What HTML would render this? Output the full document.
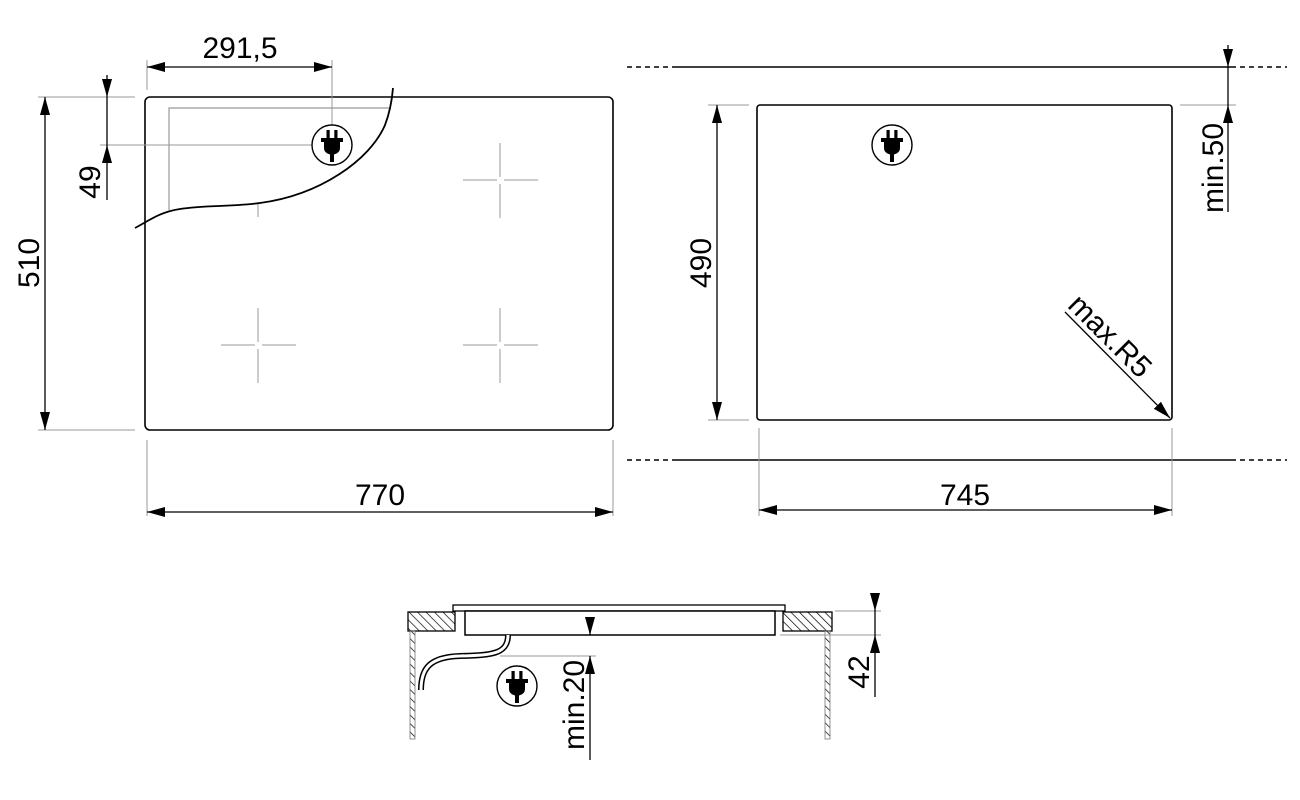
<!DOCTYPE html>
<html><head><meta charset="utf-8"><style>
html,body{margin:0;padding:0;background:#fff;}
svg{display:block;}
text{font-family:"Liberation Sans",Arial,sans-serif;font-size:30px;fill:#000;}
</style></head><body>
<svg width="1300" height="800" viewBox="0 0 1300 800" xmlns="http://www.w3.org/2000/svg">
<defs>
<marker id="a" viewBox="0 0 18 10" refX="18" refY="5" markerWidth="18" markerHeight="10" markerUnits="userSpaceOnUse" orient="auto-start-reverse"><path d="M0,0 L18,5 L0,10 Z" fill="#000"/></marker>
<pattern id="h" width="6" height="6" patternUnits="userSpaceOnUse" patternTransform="rotate(-45)"><line x1="0" y1="0" x2="0" y2="6" stroke="#000" stroke-width="1.4"/></pattern>
<g id="plug">
<circle cx="0" cy="0" r="20" fill="#fff" stroke="#000" stroke-width="1.4"/>
<rect x="-5.5" y="-15" width="3.2" height="8" fill="#000"/><rect x="2.3" y="-15" width="3.2" height="8" fill="#000"/>
<path d="M-11,-7 H11 V-3 H8 V3 Q8,8 2,9.5 V17 H-2 V9.5 Q-8,8 -8,3 V-3 H-11 Z" fill="#000"/>
</g>
<g id="cross" stroke="#bbb" stroke-width="1.5">
<line x1="-37" y1="0" x2="-3" y2="0"/><line x1="4" y1="0" x2="38" y2="0"/>
<line x1="0" y1="-37" x2="0" y2="-3"/><line x1="0" y1="4" x2="0" y2="38"/>
</g>
</defs>

<!-- LEFT VIEW -->
<g fill="none">
<rect x="145" y="97" width="468" height="333" rx="5" stroke="#000" stroke-width="1.6"/>
<path d="M169,210 V108 H390" stroke="#999" stroke-width="1.2"/>
<line x1="258" y1="202" x2="258" y2="217" stroke="#bbb" stroke-width="1.5"/>
<path d="M135,228 C150,220 160,212 180,209 C205,205 230,207 260,203 C320,195 370,160 385,125 C390,112 392,100 393,88" stroke="#000" stroke-width="1.8"/>
</g>
<use href="#cross" x="500" y="180"/>
<use href="#cross" x="258" y="345"/>
<use href="#cross" x="500" y="345"/>
<g stroke="#999" stroke-width="1">
<line x1="147" y1="60" x2="147" y2="90"/>
<line x1="332" y1="60" x2="332" y2="126"/>
<line x1="38" y1="97" x2="135" y2="97"/>
<line x1="100" y1="145" x2="312" y2="145"/>
<line x1="38" y1="430" x2="135" y2="430"/>
<line x1="147" y1="440" x2="147" y2="516"/>
<line x1="613" y1="440" x2="613" y2="516"/>
</g>
<use href="#plug" x="332" y="145"/>
<g stroke="#000" stroke-width="1.3" fill="none">
<line x1="147" y1="67" x2="332" y2="67" marker-start="url(#a)" marker-end="url(#a)"/>
<line x1="107" y1="75" x2="107" y2="97" marker-end="url(#a)"/>
<line x1="107" y1="200" x2="107" y2="145" marker-end="url(#a)"/>
<line x1="107" y1="97" x2="107" y2="145"/>
<line x1="45" y1="97" x2="45" y2="430" marker-start="url(#a)" marker-end="url(#a)"/>
<line x1="147" y1="512" x2="613" y2="512" marker-start="url(#a)" marker-end="url(#a)"/>
</g>
<text x="240" y="58" text-anchor="middle">291,5</text>
<text transform="translate(100,182) rotate(-90)" text-anchor="middle">49</text>
<text transform="translate(39,263) rotate(-90)" text-anchor="middle">510</text>
<text x="380" y="505" text-anchor="middle">770</text>

<!-- RIGHT VIEW -->
<rect x="757" y="105" width="415" height="315" rx="3" fill="none" stroke="#000" stroke-width="1.6"/>
<g stroke="#000" stroke-width="1.5">
<line x1="627" y1="67" x2="672" y2="67" stroke-dasharray="5,4"/>
<line x1="672" y1="67" x2="1236" y2="67"/>
<line x1="1240" y1="67" x2="1287" y2="67" stroke-dasharray="5,4"/>
<line x1="627" y1="460" x2="672" y2="460" stroke-dasharray="5,4"/>
<line x1="672" y1="460" x2="1236" y2="460"/>
<line x1="1240" y1="460" x2="1287" y2="460" stroke-dasharray="5,4"/>
</g>
<g stroke="#999" stroke-width="1">
<line x1="1180" y1="105" x2="1236" y2="105"/>
<line x1="708" y1="105" x2="749" y2="105"/>
<line x1="708" y1="420" x2="749" y2="420"/>
<line x1="759" y1="428" x2="759" y2="516"/>
<line x1="1172" y1="428" x2="1172" y2="516"/>
</g>
<use href="#plug" x="892" y="145"/>
<g stroke="#000" stroke-width="1.3" fill="none">
<line x1="1228" y1="45" x2="1228" y2="67" marker-end="url(#a)"/>
<line x1="1228" y1="212" x2="1228" y2="105" marker-end="url(#a)"/>
<line x1="1228" y1="67" x2="1228" y2="105"/>
<line x1="717" y1="105" x2="717" y2="420" marker-start="url(#a)" marker-end="url(#a)"/>
<line x1="759" y1="510" x2="1172" y2="510" marker-start="url(#a)" marker-end="url(#a)"/>
<line x1="1065" y1="312" x2="1170" y2="418" marker-end="url(#a)"/>
</g>
<text transform="translate(1223,168) rotate(-90)" text-anchor="middle">min.50</text>
<text transform="translate(711,263) rotate(-90)" text-anchor="middle">490</text>
<text x="965" y="505" text-anchor="middle">745</text>
<text transform="translate(1103,343) rotate(45)" text-anchor="middle">max.R5</text>

<!-- BOTTOM VIEW -->
<rect x="408" y="612" width="47" height="19" fill="url(#h)" stroke="#000" stroke-width="1.3"/>
<rect x="783" y="612" width="49" height="19" fill="url(#h)" stroke="#000" stroke-width="1.3"/>
<rect x="410" y="631" width="5" height="108" fill="url(#h)" stroke="#777" stroke-width="0.8"/>
<rect x="825" y="631" width="5" height="108" fill="url(#h)" stroke="#777" stroke-width="0.8"/>
<rect x="453" y="605" width="332" height="6" fill="#fff" stroke="#000" stroke-width="1.3"/>
<rect x="465" y="611" width="310" height="24" fill="#fff" stroke="#000" stroke-width="1.5"/>
<path d="M508,635 C508,655 490,655 460,656 C430,657 421,668 421,690" fill="none" stroke="#000" stroke-width="6"/>
<path d="M508,635 C508,655 490,655 460,656 C430,657 421,668 421,690" fill="none" stroke="#fff" stroke-width="3"/>
<g stroke="#999" stroke-width="1">
<line x1="500" y1="656" x2="596" y2="656"/>
<line x1="835" y1="611" x2="881" y2="611"/>
<line x1="780" y1="635" x2="881" y2="635"/>
</g>
<use href="#plug" x="517" y="686"/>
<g stroke="#000" stroke-width="1.3" fill="none">
<line x1="590" y1="618" x2="590" y2="635" marker-end="url(#a)"/>
<line x1="590" y1="760" x2="590" y2="656" marker-end="url(#a)"/>
<line x1="875" y1="594" x2="875" y2="611" marker-end="url(#a)"/>
<line x1="875" y1="697" x2="875" y2="635" marker-end="url(#a)"/>
<line x1="875" y1="611" x2="875" y2="635"/>
</g>
<text transform="translate(584,705) rotate(-90)" text-anchor="middle">min.20</text>
<text transform="translate(869,672) rotate(-90)" text-anchor="middle">42</text>
</svg>
</body></html>
